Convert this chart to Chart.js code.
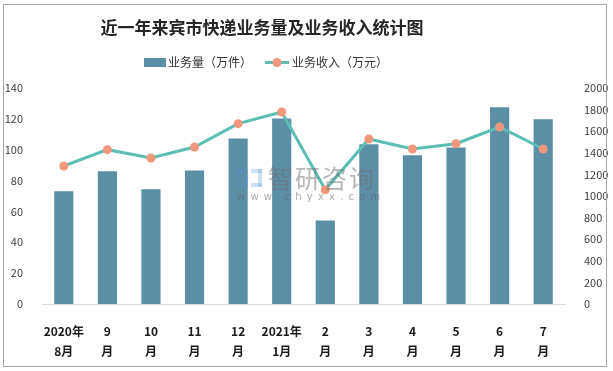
<!DOCTYPE html>
<html>
<head>
<meta charset="utf-8">
<script src="https://cdn.jsdelivr.net/npm/chart.js@4"></script>
<style>
  html, body { margin: 0; padding: 0; background: #fff; }
  #wrap { position: relative; width: 613px; height: 371px; }
  #frame { position: absolute; left: 3px; top: 4px; width: 602px; height: 361px; border: 1.5px solid #a6a6a6; pointer-events: none; }
  canvas { display: block; }
</style>
</head>
<body>
<div id="wrap">
  <canvas id="c" width="613" height="371"></canvas>
  <div id="frame"></div>
</div>
<script>
const titleText = '近一年来宾市快递业务量及业务收入统计图';
const categories = [
  ['2020年', '8月'], ['9', '月'], ['10', '月'], ['11', '月'], ['12', '月'],
  ['2021年', '1月'], ['2', '月'], ['3', '月'], ['4', '月'], ['5', '月'], ['6', '月'], ['7', '月']
];
const volumeLabel = '业务量（万件）';
const volume = [73, 86, 74.3, 86.6, 107.2, 120.3, 54.2, 103.5, 96.4, 101.5, 127.5, 119.7];
const revenueLabel = '业务收入（万元）';
const revenue = [1278, 1429, 1352, 1454, 1670, 1778, 1058, 1528, 1435, 1484, 1639, 1435];
const leftTicks = [0, 20, 40, 60, 80, 100, 120, 140];
const rightTicks = [0, 200, 400, 600, 800, 1000, 1200, 1400, 1600, 1800, 2000];

const BAR = '#5b8fa6';
const LINE = '#5cbdb3';
const DOT = '#f0977d';
const CJK = '"Noto Sans CJK SC", "Noto Sans", sans-serif';

const decor = {
  id: 'decor',
  afterDraw(chart) {
    const ctx = chart.ctx;
    ctx.save();
    // title
    ctx.fillStyle = '#262626';
    ctx.font = 'bold 17px ' + CJK;
    ctx.textAlign = 'center';
    ctx.textBaseline = 'middle';
    ctx.fillText(titleText, 262, 28);
    // legend
    ctx.font = '12px ' + CJK;
    ctx.textAlign = 'left';
    const ds = chart.data.datasets;
    ctx.fillStyle = ds[0].backgroundColor;
    ctx.fillRect(144, 58, 22, 9);
    ctx.fillStyle = '#333';
    ctx.fillText(ds[0].label, 168, 62.5);
    ctx.strokeStyle = ds[1].borderColor;
    ctx.lineWidth = 3;
    ctx.beginPath(); ctx.moveTo(265, 62.5); ctx.lineTo(289, 62.5); ctx.stroke();
    ctx.fillStyle = ds[1].pointBackgroundColor;
    ctx.beginPath(); ctx.arc(277, 62.5, 4.5, 0, Math.PI * 2); ctx.fill();
    ctx.fillStyle = '#333';
    ctx.fillText(ds[1].label, 292, 62.5);
    ctx.restore();
  }
};

const watermark = {
  id: 'watermark',
  afterDraw(chart) {
    const ctx = chart.ctx;
    ctx.save();
    // logo
    ctx.fillStyle = 'rgba(90,140,200,0.35)';
    ctx.fillRect(237, 169, 11, 4);
    ctx.fillRect(237, 169, 4, 18);
    ctx.fillRect(244, 176, 4, 11);
    ctx.fillStyle = 'rgba(110,170,225,0.35)';
    ctx.fillRect(251, 169, 11, 4);
    ctx.fillRect(258, 169, 4, 18);
    ctx.fillRect(251, 183, 11, 4);
    // text
    ctx.fillStyle = 'rgba(110,110,110,0.5)';
    ctx.font = '25px ' + CJK;
    ctx.textAlign = 'left';
    ctx.textBaseline = 'middle';
    if ('letterSpacing' in ctx) ctx.letterSpacing = '2px';
    ctx.fillText('智研咨询', 268, 178);
    ctx.fillStyle = 'rgba(100,100,100,0.55)';
    ctx.font = '10px "DejaVu Sans", sans-serif';
    if ('letterSpacing' in ctx) ctx.letterSpacing = '5.2px';
    ctx.fillText('www.chyxx.com', 237, 197);
    ctx.restore();
  }
};

new Chart(document.getElementById('c'), {
  data: {
    labels: categories,
    datasets: [
      {
        type: 'bar', label: volumeLabel, data: volume, yAxisID: 'y',
        backgroundColor: BAR, borderWidth: 0,
        categoryPercentage: 1, barPercentage: 0.44, order: 1
      },
      {
        type: 'line', label: revenueLabel, data: revenue, yAxisID: 'y1',
        borderColor: LINE, borderWidth: 3, pointBackgroundColor: DOT, pointBorderColor: DOT,
        pointRadius: 4.5, pointBorderWidth: 0, tension: 0, order: 0
      }
    ]
  },
  options: {
    responsive: false,
    animation: false,
    layout: { padding: { top: 88, left: 0, right: 0, bottom: 0 } },
    plugins: { legend: { display: false }, title: { display: false }, tooltip: { enabled: false } },
    scales: {
      x: {
        grid: { display: false },
        border: { display: true, color: '#d9d9d9', width: 1 },
        ticks: {
          color: '#1a1a1a', padding: 9, maxRotation: 0, autoSkip: false,
          font: { family: CJK, size: 12, weight: 'bold', lineHeight: 1.6667 }
        },
        afterFit(s) { s.height = 67; }
      },
      y: {
        position: 'left', min: 0, max: 140,
        grid: { display: false }, border: { display: false },
        afterBuildTicks(s) { s.ticks = leftTicks.map(v => ({ value: v })); },
        ticks: { color: '#404040', padding: 11, font: { family: CJK, size: 11 }, callback: v => String(v) },
        afterFit(s) { s.width = 42; }
      },
      y1: {
        position: 'right', min: 0, max: 2000,
        grid: { display: false }, border: { display: false },
        afterBuildTicks(s) { s.ticks = rightTicks.map(v => ({ value: v })); },
        ticks: { color: '#404040', padding: 11, font: { family: CJK, size: 11 }, callback: v => String(v) },
        afterFit(s) { s.width = 48; }
      }
    }
  },
  plugins: [watermark, decor]
});
</script>
</body>
</html>
